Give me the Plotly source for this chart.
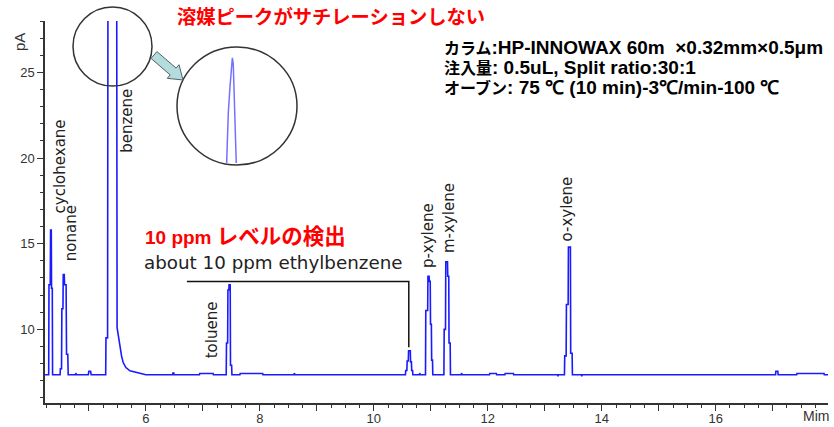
import math
import plotly.graph_objects as go

# ---------------- data ----------------
time_min = [
    4.23, 4.295, 4.30, 4.322, 4.328, 4.34, 4.345, 4.358, 4.363,
    4.495, 4.50, 4.52, 4.526, 4.545, 4.55, 4.568, 4.573, 4.60, 4.608, 4.63, 4.637,
    4.765, 4.77, 4.78, 4.99, 5.00, 5.03, 5.04,
    5.295, 5.30, 5.328, 5.41, 5.495, 5.544, 5.573, 5.602, 5.65, 5.72, 5.89, 6.0,
    6.47, 6.475, 6.49, 6.495, 6.94, 6.945, 7.18, 7.185,
    7.41, 7.415, 7.435, 7.44, 7.455, 7.46, 7.48, 7.485, 7.505, 7.51,
    7.65, 7.655, 8.05, 8.055, 8.6, 8.605, 8.62,
    10.555, 10.56, 10.58, 10.585, 10.605, 10.61, 10.64, 10.645, 10.66, 10.665, 10.68, 10.685,
    10.80, 10.805, 10.815,
    10.907, 10.912, 10.945, 10.95, 10.97, 10.975, 10.99, 10.995, 11.01, 11.015, 11.03, 11.035,
    11.23, 11.235, 11.258, 11.263, 11.293, 11.298, 11.315, 11.32, 11.34, 11.345,
    11.535, 11.54, 11.55,
    12.03, 12.035, 12.15, 12.155, 12.3, 12.305, 12.45, 12.455,
    13.225, 13.23, 13.235,
    13.345, 13.35, 13.375, 13.38, 13.41, 13.415, 13.45, 13.455, 13.48, 13.485,
    13.645, 13.65, 13.655,
    17.05, 17.055, 17.09, 17.095, 17.42, 17.425, 17.9, 17.905, 17.97,
]
signal_pA = [
    7.35, 7.35, 12.6, 12.6, 15.8, 15.8, 12.4, 12.4, 7.35,
    7.35, 7.7, 7.7, 11.2, 11.2, 13.2, 13.2, 12.6, 12.6, 8.55, 8.55, 7.35,
    7.35, 7.45, 7.35, 7.35, 7.55, 7.55, 7.35,
    7.35, 9.5, 9.5, 260.0, 10.1, 9.03, 8.45, 8.06, 7.77, 7.58, 7.44, 7.35,
    7.35, 7.45, 7.45, 7.35, 7.35, 7.42, 7.42, 7.35,
    7.35, 9.2, 9.2, 12.3, 12.3, 12.6, 12.6, 7.9, 7.9, 7.35,
    7.35, 7.42, 7.42, 7.35, 7.35, 7.45, 7.35,
    7.35, 7.6, 7.6, 8.15, 8.15, 8.75, 8.75, 8.1, 8.1, 7.6, 7.6, 7.35,
    7.35, 7.45, 7.35,
    7.35, 11.1, 11.1, 13.1, 13.1, 12.8, 12.8, 10.3, 10.3, 8.2, 8.2, 7.35,
    7.35, 10.0, 10.0, 13.95, 13.95, 13.1, 13.1, 9.2, 9.2, 7.35,
    7.35, 7.45, 7.35,
    7.35, 7.42, 7.42, 7.35, 7.35, 7.42, 7.42, 7.35,
    7.35, 7.25, 7.35,
    7.35, 8.45, 8.45, 11.45, 11.45, 14.8, 14.8, 8.6, 8.6, 7.35,
    7.35, 7.25, 7.35,
    7.35, 7.55, 7.55, 7.35, 7.35, 7.42, 7.42, 7.35, 7.35,
]

# magnified solvent peak (inset)
inset_time = [5.331, 5.335, 5.342, 5.353, 5.363, 5.369, 5.375, 5.384, 5.391, 5.395]
inset_signal = [2, 22, 53, 79, 103, 109, 103, 53, 22, 2]

peak_names = ["cyclohexane", "nonane", "benzene", "toluene",
              "p-xylene", "m-xylene", "o-xylene"]
ethylbenzene_time = 10.614

x_tick_values = [5, 6, 7, 8, 9, 10, 11, 12, 13, 14, 15, 16, 17]
x_tick_labels = ["", "6", "", "8", "", "10", "", "12", "", "14", "", "16", ""]
y_tick_values = [10, 15, 20, 25]
y_tick_labels = ["10", "15", "20", "25"]

# ---------------- layout helpers ----------------
W, H = 834, 427
L, R, T, B = 45, 6, 21, 24
PW, PH = W - L - R, H - T - B


def px(x):
    return (x - L) / PW


def py(y):
    return (H - B - y) / PH


fig = go.Figure()
fig.add_trace(go.Scatter(
    x=time_min, y=signal_pA, mode="lines",
    line=dict(color="#1a1aff", width=1.6),
    hoverinfo="skip", showlegend=False))
fig.add_trace(go.Scatter(
    x=inset_time, y=inset_signal, mode="lines", xaxis="x2", yaxis="y2",
    line=dict(color="#7272ff", width=1.5),
    hoverinfo="skip", showlegend=False))

tick_font = dict(family="Liberation Sans, Arial", size=13, color="#333")

# arrow polygon
sx, sy, tx, ty = 154, 55, 183, 80
dx, dy = tx - sx, ty - sy
ln = math.hypot(dx, dy)
ux, uy = dx / ln, dy / ln
nx, ny = -uy, ux
hs, hh, hl = 4.5, 9, 13
hx, hy = tx - hl * ux, ty - hl * uy
pts = [(sx + hs * nx, sy + hs * ny), (hx + hs * nx, hy + hs * ny),
       (hx + hh * nx, hy + hh * ny), (tx, ty),
       (hx - hh * nx, hy - hh * ny), (hx - hs * nx, hy - hs * ny),
       (sx - hs * nx, sy - hs * ny)]
arrow_path = "M " + " L ".join(f"{px(a):.5f},{py(b):.5f}" for a, b in pts) + " Z"

shapes = [
    dict(type="circle", xref="paper", yref="paper",
         x0=px(73), x1=px(152), y0=py(86), y1=py(7),
         line=dict(color="#333", width=1.5), layer="above"),
    dict(type="circle", xref="paper", yref="paper",
         x0=px(177), x1=px(297), y0=py(165), y1=py(47),
         line=dict(color="#333", width=1.5), fillcolor="rgba(0,0,0,0)", layer="above"),
    dict(type="path", xref="paper", yref="paper", path=arrow_path,
         fillcolor="#b3dcdc", line=dict(color="#55606a", width=1), layer="above"),
    dict(type="path", xref="x", yref="y",
         path=f"M 6.72,12.8 L {ethylbenzene_time},12.8 L {ethylbenzene_time},8.95",
         line=dict(color="#111", width=1.5)),
]

label_pos = [(4.49, 19.5), (4.70, 15.6), (5.68, 22.15), (7.16, 10.0),
             (10.95, 15.5), (11.32, 16.5), (13.39, 17.0)]
annotations = []
for name, (lx, ly) in zip(peak_names, label_pos):
    annotations.append(dict(x=lx, y=ly, xref="x", yref="y", text=name,
                            textangle=-90, showarrow=False,
                            xanchor="center", yanchor="middle",
                            font=dict(family="DejaVu Sans", size=15, color="#222")))

cjk = "Noto Sans CJK JP"
lat = "Liberation Sans, Arial"


def span(t, fam, size):
    return f"<span style='font-family:{fam};font-size:{size}px'>{t}</span>"


info_text = "<br>".join([
    "<b>" + span("カラム", cjk, 16) + span(":HP-INNOWAX 60m  ×0.32mm×0.5μm", lat, 19) + "</b>",
    "<b>" + span("注入量", cjk, 16) + span(": 0.5uL, Split ratio:30:1", lat, 19) + "</b>",
    "<b>" + span("オーブン", cjk, 16) + span(": 75 ℃ (10 min)-3℃/min-100 ℃", lat, 19) + "</b>",
])

annotations += [
    dict(x=px(175), y=py(16), xref="paper", yref="paper", showarrow=False,
         xanchor="left", yanchor="middle",
         text="<b>溶媒ピークがサチレーションしない</b>",
         font=dict(family=cjk, size=19.3, color="#ff0000")),
    dict(x=px(143), y=py(234), xref="paper", yref="paper", showarrow=False,
         xanchor="left", yanchor="middle",
         text="<b>" + span("10 ppm ", lat, 19) + span("レベルの検出", cjk, 21.5) + "</b>",
         font=dict(family=cjk, size=20, color="#ff0000")),
    dict(x=px(142), y=py(262), xref="paper", yref="paper", showarrow=False,
         xanchor="left", yanchor="middle", text="about 10 ppm ethylbenzene",
         font=dict(family="DejaVu Sans", size=18.3, color="#222")),
    dict(x=px(442), y=py(67), xref="paper", yref="paper", showarrow=False,
         xanchor="left", yanchor="middle", align="left",
         text=info_text,
         font=dict(family=lat, size=15.4, color="#000")),
    dict(x=px(19), y=py(42), xref="paper", yref="paper", showarrow=False,
         xanchor="center", yanchor="middle", text="pA", textangle=-90,
         font=dict(family=lat, size=15, color="#333")),
    dict(x=px(831), y=py(416), xref="paper", yref="paper", showarrow=False,
         xanchor="right", yanchor="middle", text="Mim",
         font=dict(family=lat, size=14, color="#333")),
]

fig.update_layout(
    width=W, height=H,
    margin=dict(l=L, r=R, t=T, b=B, pad=0),
    paper_bgcolor="white", plot_bgcolor="white",
    showlegend=False,
    xaxis=dict(range=[4.23, 17.97], showgrid=False, zeroline=False,
               showline=True, linecolor="#333", linewidth=1.5,
               tickmode="array", tickvals=x_tick_values, ticktext=x_tick_labels,
               ticks="outside", ticklen=6, tickwidth=1.2, tickcolor="#333",
               ticklabelstandoff=-3,
               minor=dict(tickmode="linear", tick0=0, dtick=0.25, ticks="outside",
                          ticklen=3, tickwidth=1, tickcolor="#333"),
               tickfont=tick_font, automargin=False, fixedrange=True),
    yaxis=dict(range=[5.7, 28], showgrid=False, zeroline=False,
               showline=True, linecolor="#333", linewidth=1.5,
               tickmode="array", tickvals=y_tick_values, ticktext=y_tick_labels,
               ticks="outside", ticklen=6, tickwidth=1.2, tickcolor="#333",
               minor=dict(tickmode="linear", tick0=0, dtick=1, ticks="outside",
                          ticklen=3, tickwidth=1, tickcolor="#333"),
               tickfont=tick_font, automargin=False, fixedrange=True),
    xaxis2=dict(domain=[px(177), px(297)], range=[5.0, 5.8], visible=False,
                anchor="y2", fixedrange=True),
    yaxis2=dict(domain=[py(165), py(47)], range=[0, 120], visible=False,
                anchor="x2", fixedrange=True),
    shapes=shapes,
    annotations=annotations,
)

fig.write_html("out.html", config={"displayModeBar": False},
               post_script="document.body.style.margin='0';")
